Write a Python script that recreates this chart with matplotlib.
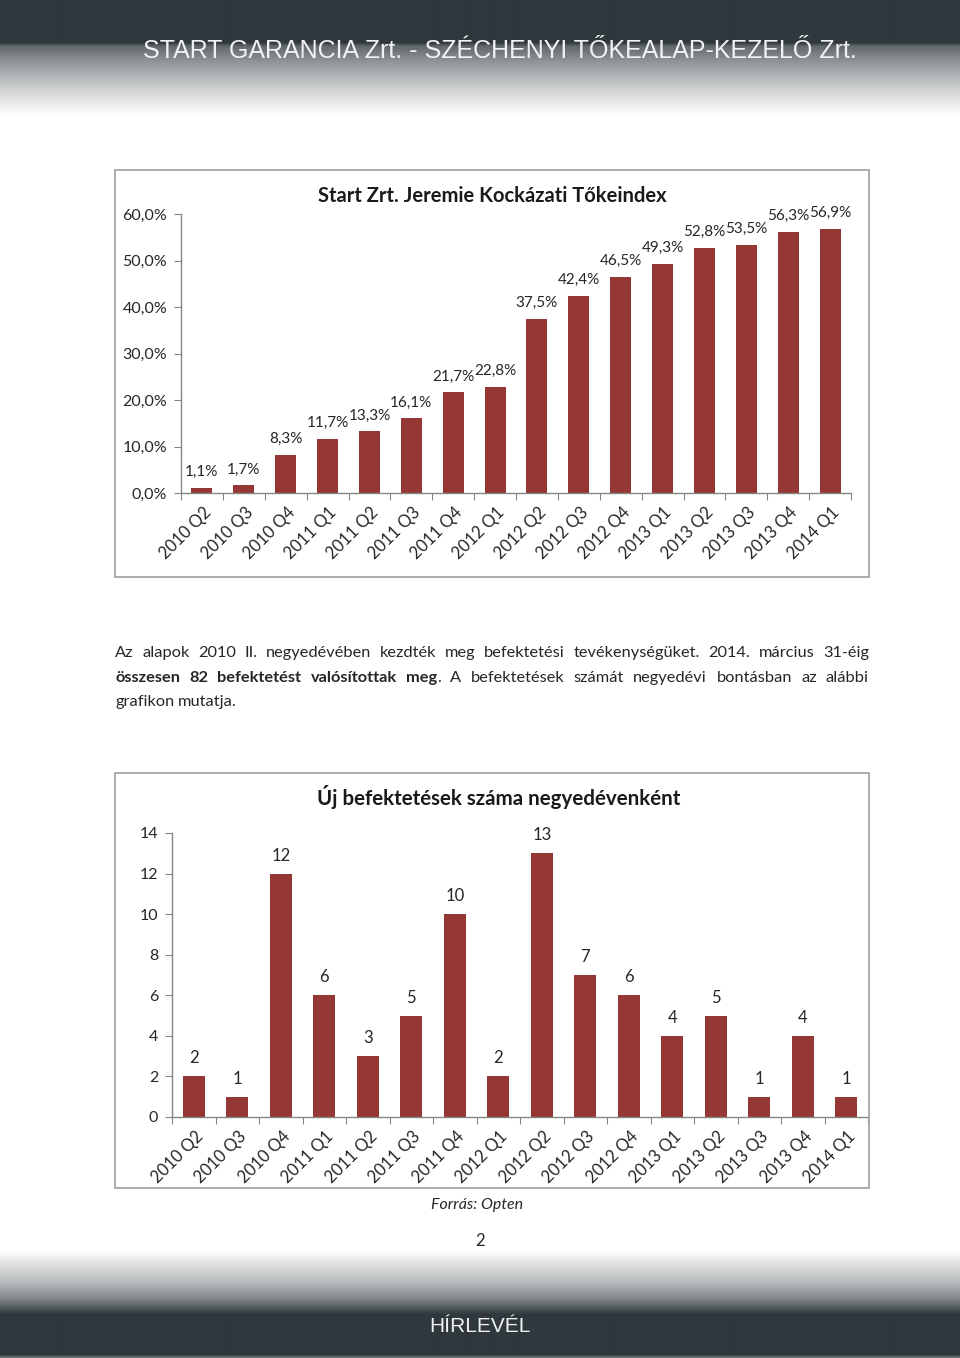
import numpy as np
import matplotlib.pyplot as plt
from matplotlib.patches import Rectangle
from matplotlib.transforms import ScaledTranslation

plt.rcParams['font.family'] = ['Lato', 'DejaVu Sans']

# data
quarters = ['2010 Q2', '2010 Q3', '2010 Q4', '2011 Q1', '2011 Q2', '2011 Q3',
            '2011 Q4', '2012 Q1', '2012 Q2', '2012 Q3', '2012 Q4', '2013 Q1',
            '2013 Q2', '2013 Q3', '2013 Q4', '2014 Q1']
index_pct = [1.1, 1.7, 8.3, 11.7, 13.3, 16.1, 21.7, 22.8,
             37.5, 42.4, 46.5, 49.3, 52.8, 53.5, 56.3, 56.9]
new_investments = [2, 1, 12, 6, 3, 5, 10, 2, 13, 7, 6, 4, 5, 1, 4, 1]
pct_ticks = [0, 10, 20, 30, 40, 50, 60]
count_ticks = [0, 2, 4, 6, 8, 10, 12, 14]

title1 = 'Start Zrt. Jeremie Kockázati Tőkeindex'
title2 = 'Új befektetések száma negyedévenként'
header = 'START GARANCIA Zrt. - SZÉCHENYI TŐKEALAP-KEZELŐ Zrt.'
footer = 'HÍRLEVÉL'

BAR = '#953735'
AXIS = '#868686'
TXT = '#262626'
FRAME = '#a6a6a6'

W, H = 960, 1358
fig = plt.figure(figsize=(9.6, 13.58), dpi=100)


def fx(px):
    return px / W


def fy(py):
    return 1 - py / H


# page background: header and footer gradients
rows = np.arange(H)
dark = np.array([47, 56, 61])
stops_y = [0, 42, 46, 60, 80, 100, 116, 1250, 1268, 1280, 1298, 1314, 1354, 1357]
stops_v = [0.0, 0.0, 0.25, 0.45, 0.68, 0.87, 1.0, 1.0, 0.80, 0.68, 0.40, 0.0, 0.0, 0.3]
mix = np.interp(rows, stops_y, stops_v)
col = dark[None, :] / 255 * (1 - mix[:, None]) + mix[:, None]
bg = fig.add_axes([0, 0, 1, 1])
bg.imshow(col[:, None, :], aspect='auto', extent=[0, 1, 0, 1], interpolation='bilinear')
bg.set_axis_off()

fig.text(fx(500), fy(51), header, ha='center', va='center', color='#f2f2f2',
         family=['Liberation Sans', 'DejaVu Sans'], fontsize=18)
fig.text(fx(480), fy(1326), footer, ha='center', va='center', color='#f2f2f2',
         family=['Liberation Sans', 'DejaVu Sans'], fontsize=15)

# chart frames
for top, bottom in [(170, 577), (773, 1188)]:
    fig.add_artist(Rectangle((fx(115), fy(bottom)), fx(869 - 115), (bottom - top) / H,
                             transform=fig.transFigure, fill=False, ec=FRAME, lw=1.3))


def bar_chart(ax, values, labels, ticks, ticklabels, offset, shift, lsize):
    x = np.arange(len(values))
    ax.bar(x, values, width=0.5, color=BAR)
    ax.set_xlim(-0.5, len(values) - 0.5)
    ax.set_ylim(ticks[0], ticks[-1])
    ax.set_facecolor('none')
    for s in ['top', 'right']:
        ax.spines[s].set_visible(False)
    for s in ['left', 'bottom']:
        ax.spines[s].set_color(AXIS)
        ax.spines[s].set_linewidth(1.0)
    ax.set_yticks(ticks)
    ax.set_yticklabels(ticklabels, fontsize=11.5, color=TXT)
    ax.tick_params(axis='y', direction='out', length=5, color=AXIS, pad=5)
    ax.set_xticks(np.arange(len(values) + 1) - 0.5)
    ax.set_xticklabels([])
    ax.tick_params(axis='x', which='major', direction='out', length=5, color=AXIS)
    ax.set_xticks(x, minor=True)
    ax.set_xticklabels(quarters, minor=True, rotation=45, ha='right', va='top',
                       rotation_mode='anchor', fontsize=12, color=TXT)
    ax.tick_params(axis='x', which='minor', length=0, pad=8)
    for lab in ax.get_xticklabels(minor=True):
        lab.set_transform(lab.get_transform() + ScaledTranslation(shift / 100, 0, fig.dpi_scale_trans))
    for xi, v, lab in zip(x, values, labels):
        ax.annotate(lab, (xi, v), xytext=(0, offset), textcoords='offset points',
                    ha='center', va='center', fontsize=lsize, color=TXT)


# chart 1: index
ax1 = fig.add_axes([fx(181), fy(493.3), fx(851 - 181), (493.3 - 214.3) / H])
pct_labels = [f'{v:.1f}%'.replace('.', ',') for v in index_pct]
pct_ticklabels = [f'{t:.1f}%'.replace('.', ',') for t in pct_ticks]
bar_chart(ax1, index_pct, pct_labels, pct_ticks, pct_ticklabels, 11.5, 1, 11)
fig.text(fx(492), fy(196), title1, ha='center', va='center', fontsize=14.5,
         fontweight='bold', color='#1a1a1a')

# chart 2: new investments
ax2 = fig.add_axes([fx(172), fy(1117), fx(868 - 172), (1117 - 833) / H])
bar_chart(ax2, new_investments, [str(v) for v in new_investments], count_ticks,
          [str(t) for t in count_ticks], 13, 1, 12)
fig.text(fx(499), fy(797), title2, ha='center', va='center', fontsize=14.8,
         fontweight='bold', color='#1a1a1a')

fig.text(fx(477), fy(1205), 'Forrás: Opten', ha='center', va='center', fontsize=11.5,
         style='italic', color=TXT)
fig.text(fx(480), fy(1241), '2', ha='center', va='center', fontsize=12, color=TXT)

# paragraph, justified between the chart frame edges
N, B = 'normal', 'bold'
para = [
    ([[('Az', N)], [('alapok', N)], [('2010', N)], [('II.', N)], [('negyedévében', N)],
      [('kezdték', N)], [('meg', N)], [('befektetési', N)], [('tevékenységüket.', N)],
      [('2014.', N)], [('március', N)], [('31-éig', N)]], 657, True),
    ([[('összesen', B)], [('82', B)], [('befektetést', B)], [('valósítottak', B)],
      [('meg', B), ('.', N)], [('A', N)], [('befektetések', N)], [('számát', N)],
      [('negyedévi', N)], [('bontásban', N)], [('az', N)], [('alábbi', N)]], 682, True),
    ([[('grafikon', N)], [('mutatja.', N)]], 706, False),
]
renderer = fig.canvas.get_renderer()
PSIZE = 11.8
for words, base, just in para:
    placed = []
    total = 0
    for word in words:
        parts = []
        wsum = 0
        for txt, wt in word:
            t = fig.text(0, fy(base), txt, fontsize=PSIZE, fontweight=wt, color=TXT,
                         ha='left', va='baseline')
            w = t.get_window_extent(renderer).width
            parts.append((t, w))
            wsum += w
        placed.append(parts)
        total += wsum
    gap = (869 - 115 - total) / (len(words) - 1) if just else PSIZE * 100 / 72 * 0.25
    xpos = 115
    for parts in placed:
        for t, w in parts:
            t.set_x(fx(xpos))
            xpos += w
        xpos += gap

fig.savefig('out.png', dpi=100)
